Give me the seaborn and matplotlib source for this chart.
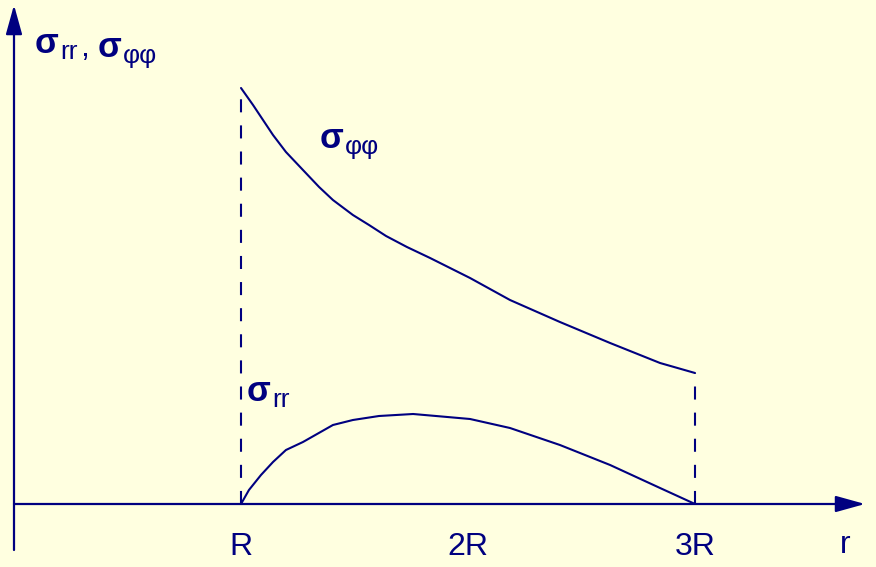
import matplotlib
matplotlib.use("Agg")
import matplotlib.pyplot as plt
import pandas as pd
import seaborn as sns

# Radial positions in units of R and the hoop stress sigma_phiphi
r_phi = [1.000, 1.053, 1.097, 1.141, 1.198, 1.273, 1.344, 1.405, 1.493, 1.564,
         1.639, 1.731, 1.833, 2.009, 2.185, 2.405, 2.626, 2.846, 3.000]
sigma_phi = [4.16, 3.99, 3.84, 3.69, 3.52, 3.34, 3.17, 3.04, 2.89, 2.79,
             2.68, 2.57, 2.46, 2.26, 2.04, 1.82, 1.61, 1.41, 1.31]

# Radial positions in units of R and the radial stress sigma_rr
r_rr = [1.000, 1.035, 1.088, 1.141, 1.198, 1.273, 1.405, 1.493, 1.608, 1.758,
        1.859, 2.009, 2.185, 2.405, 2.626, 2.846, 3.000]
sigma_rr = [0.00, 0.14, 0.29, 0.42, 0.54, 0.62, 0.79, 0.84, 0.88, 0.90,
            0.88, 0.85, 0.76, 0.59, 0.39, 0.16, 0.00]

tick_pos = [1, 2, 3]
tick_labels = ["R", "2R", "3R"]

NAVY = "#000080"
BG = "#FFFFE0"

sns.set_style("white", {"axes.facecolor": BG, "figure.facecolor": BG})
plt.rcParams["font.family"] = ["Liberation Sans", "DejaVu Sans"]
plt.rcParams["lines.scale_dashes"] = False

fig = plt.figure(figsize=(8.76, 5.67), dpi=100)
ax = fig.add_axes([0, 0, 1, 1])
ax.set_xlim(-14 / 227, 862 / 227)
ax.set_ylim(-0.63, 5.04)
ax.axis("off")

phi_df = pd.DataFrame({"r": r_phi, "s": sigma_phi})
rr_df = pd.DataFrame({"r": r_rr, "s": sigma_rr})
sns.lineplot(data=phi_df, x="r", y="s", sort=False, color=NAVY, lw=1.5, ax=ax)
sns.lineplot(data=rr_df, x="r", y="s", sort=False, color=NAVY, lw=1.5, ax=ax)

# dashed verticals at the inner and outer radius
dash = (9.4, 9.4)
ax.plot([r_phi[0], r_phi[0]], [0, sigma_phi[0]], color=NAVY, lw=1.5, dashes=dash)
ax.plot([r_phi[-1], r_phi[-1]], [0, sigma_phi[-1]], color=NAVY, lw=1.5, dashes=dash)

# coordinate axes with filled arrow heads
arrow = dict(arrowstyle="-|>,head_length=1.8,head_width=0.5", mutation_scale=10,
             color=NAVY, lw=1.6, shrinkA=0, shrinkB=0)
ax.annotate("", xy=(0, 4.99), xytext=(0, -0.46), arrowprops=arrow)
ax.annotate("", xy=(3.749, 0), xytext=(0, 0), arrowprops=arrow)

# tick labels under the r axis
for x, lab in zip(tick_pos, tick_labels):
    ax.text(x, -0.43, lab, ha="center", va="center", fontsize=23, color=NAVY)
ax.text(3.66, -0.41, "r", ha="center", va="center", fontsize=23, color=NAVY)

SIG = dict(fontsize=25, fontweight="bold", color=NAVY)
SUB = dict(fontsize=19, color=NAVY)


def sub_after(anchor, txt, dx=1, dy=-3, **kw):
    """Place a text piece right after the bounding box of another."""
    return ax.annotate(txt, xy=(1, 0), xycoords=anchor, xytext=(dx, dy),
                       textcoords="offset points", ha="left", va="bottom", **kw)


def sigma_label(x, y, sub):
    sig = ax.text(x, y, "σ", ha="left", va="baseline", **SIG)
    return sub_after(sig, sub, **SUB)


# axis title: sigma_rr , sigma_phiphi
first = sigma_label((35 - 14) / 227, (504 - 53) / 100, "rr")
comma = sub_after(first, ",", dx=2, dy=1, fontsize=23, color=NAVY)
sig2 = sub_after(comma, "σ", dx=6, dy=-1, **SIG)
sub_after(sig2, "φφ", **SUB)

# curve labels
sigma_label((320 - 14) / 227, (504 - 148) / 100, "φφ")
sigma_label((247 - 14) / 227, (504 - 401) / 100, "rr")

fig.savefig("out.png", dpi=100, facecolor=BG)
